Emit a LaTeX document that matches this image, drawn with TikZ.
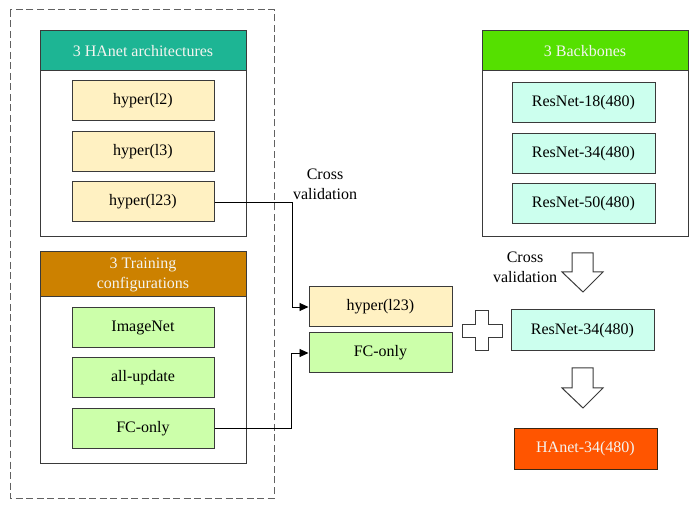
\documentclass[tikz,border=0pt]{standalone}
\usepackage{fontspec}
\setmainfont{Liberation Serif}
\usetikzlibrary{arrows.meta,calc}
\definecolor{bordc}{HTML}{3A3A3A}
\definecolor{tealc}{HTML}{1DB594}
\definecolor{orangec}{HTML}{CC8100}
\definecolor{greenh}{HTML}{55E000}
\definecolor{redc}{HTML}{FF5500}
\definecolor{yellowc}{HTML}{FFF1C2}
\definecolor{lgreenc}{HTML}{CCFFAA}
\definecolor{lcyanc}{HTML}{CCFFEE}
\definecolor{headtxt}{HTML}{F4F4F0}
\tikzset{
  box/.style={draw=bordc, line width=1pt, minimum width=142pt, minimum height=40pt, inner sep=0pt, font=\fontsize{16}{20}\selectfont},
  container/.style={draw=bordc, line width=1pt, fill=white, minimum width=206pt, inner sep=0pt},
  header/.style={draw=bordc, line width=1pt, minimum width=206pt, inner sep=0pt, text=headtxt, align=center, font=\fontsize{16}{20}\selectfont},
  conn/.style={draw=black, line width=0.9pt, -{Triangle[length=9pt,width=8pt]}},
  hollow/.style={draw=bordc, line width=1pt, fill=white, line join=miter},
  lbl/.style={font=\fontsize{16}{20}\selectfont, inner sep=0pt}
}
\begin{document}
\begin{tikzpicture}[x=1pt,y=-1pt]
\useasboundingbox (0,0) rectangle (699,510);
% outer dashed box
\draw[draw=bordc!80, line width=1pt, dash pattern=on 7pt off 3.5pt] (10,10) rectangle (274,498);
% HAnet architectures
\node[container, minimum height=206pt] (archbox) at (143,134) {};
\node[header, fill=tealc, minimum height=40pt] (archhead) at (143,51) {3 HAnet architectures};
\node[box, fill=yellowc] (h2) at (143,101) {hyper(l2)};
\node[box, fill=yellowc] (h3) at (143,151.5) {hyper(l3)};
\node[box, fill=yellowc] (h23) at (143,202) {hyper(l23)};
% Training configurations
\node[container, minimum height=212pt] (trainbox) at (143,358) {};
\node[header, fill=orangec, minimum height=45pt] (trainhead) at (143,274.5) {3 Training\\configurations};
\node[box, fill=lgreenc] (imnet) at (143,328) {ImageNet};
\node[box, fill=lgreenc] (allup) at (143,378) {all-update};
\node[box, fill=lgreenc] (fc) at (143,428.5) {FC-only};
% middle chosen
\node[box, fill=yellowc, minimum width=143pt] (mh) at (380.5,307) {hyper(l23)};
\node[box, fill=lgreenc, minimum width=143pt] (mfc) at (380.5,353) {FC-only};
% connectors
\coordinate (j1) at (292,0);
\coordinate (j2) at (291,0);
\draw[conn] (h23.east) -- (h23.east -| j1) -- (j1 |- mh.west) -- (mh.west);
\draw[conn] (fc.east) -- (fc.east -| j2) -- (j2 |- mfc.west) -- (mfc.west);
\node[lbl, align=center] (cv1) at (325,184) {Cross\\validation};
% Backbones
\node[container, minimum height=206pt] (bbbox) at (585,134) {};
\node[header, fill=greenh, minimum height=40pt] (bbhead) at (585,51) {3 Backbones};
\node[box, fill=lcyanc, minimum width=143pt] (r18) at (583.5,103) {ResNet-18(480)};
\node[box, fill=lcyanc, minimum width=143pt] (r34) at (583.5,153.5) {ResNet-34(480)};
\node[box, fill=lcyanc, minimum width=143pt] (r50) at (583.5,203.5) {ResNet-50(480)};
% cross validation arrow
\draw[hollow] (572,253) -- (593,253) -- (593,272) -- (603,272) -- (583,292) -- (562,272) -- (572,272) -- cycle;
\node[lbl, align=center] (cv2) at (525,267) {Cross\\validation};
% chosen backbone
\node[box, fill=lcyanc, minimum width=143pt, minimum height=41pt] (br34) at (582.5,330.5) {ResNet-34(480)};
% plus sign
\draw[hollow] (475.5,311) -- (488.5,311) -- (488.5,324.5) -- (502,324.5) -- (502,337.5) -- (488.5,337.5) -- (488.5,351) -- (475.5,351) -- (475.5,337.5) -- (462,337.5) -- (462,324.5) -- (475.5,324.5) -- cycle;
% second arrow
\draw[hollow] (572,368) -- (593,368) -- (593,388) -- (603,388) -- (583,408) -- (562,388) -- (572,388) -- cycle;
% result
\node[box, draw=black!70!brown, fill=redc, text=headtxt, minimum width=143pt] (res) at (585.5,449) {HAnet-34(480)};
\end{tikzpicture}
\end{document}
